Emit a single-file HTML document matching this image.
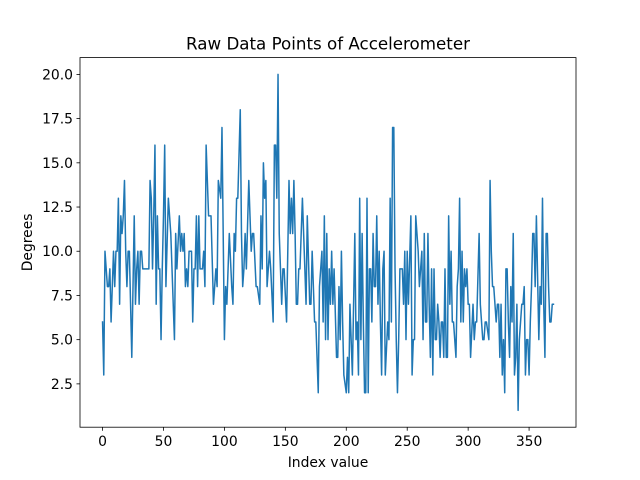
<!DOCTYPE html>
<html><head><meta charset="utf-8">
<style>
html,body{margin:0;padding:0;background:#fff;}
svg{display:block;font-family:"DejaVu Sans","Liberation Sans",sans-serif;}
</style></head>
<body>
<svg id="chart" width="640" height="480" viewBox="0 0 640 480" xmlns="http://www.w3.org/2000/svg">
<rect x="0" y="0" width="640" height="480" fill="#fff"/>
<text x="328" y="49.5" font-size="16.7" text-anchor="middle" fill="#000">Raw Data Points of Accelerometer</text>
<text x="328" y="467" font-size="13.9" text-anchor="middle" fill="#000">Index value</text>
<text x="0" y="0" font-size="13.9" text-anchor="middle" fill="#000" transform="translate(32,242.4) rotate(-90)">Degrees</text>
<g id="xticks"></g>
<g id="yticks"></g>
<path id="line" fill="none" stroke="#1f77b4" stroke-width="1.5" stroke-linejoin="round" stroke-linecap="square"/>
<rect x="80" y="57.6" width="496" height="369.6" fill="none" stroke="#000" stroke-width="0.8"/>
</svg>
<script>
const indices = [0,1,2,3,4,5,6,7,8,9,10,11,12,13,14,15,16,17,18,19,20,21,22,23,24,25,26,27,28,29,30,31,32,33,34,35,36,37,38,39,40,41,42,43,44,45,46,47,48,49,50,51,
52,54,56,59,60,61,63,64,65,66,67,68,69,70,71,72,73,74,75,76,77,78,79,80,81,82,83,84,85,87,89,91,93,94,95,97,98,100,101,102,104,106,
107,108,109,110,111,113,114,115,116,117,118,120,121,122,123,124,126,127,129,130,131,132,133,134,135,137,138,140,141,142,143,144,145,147,148,149,151,153,154,155,156,157,158,159,160,
161,162,164,166,167,168,170,171,172,174,175,177,178,180,181,182,183,184,185,186,187,188,189,190,192,193,194,195,196,197,198,200,201,202,203,204,205,207,208,209,210,211,212,213,214,
215,216,217,218,219,220,221,222,223,224,225,226,227,228,229,230,231,232,234,235,236,237,238,239,240,241,242,243,244,246,247,248,249,250,251,253,254,255,256,257,259,260,262,263,264,265,266,267,268,
269,270,271,272,273,274,275,276,277,278,279,280,281,282,283,284,285,286,287,288,290,291,292,293,294,295,296,297,298,299,300,301,302,304,305,306,307,309,310,312,313,314,315,317,318,319,320,321,
322,323,324,325,326,327,328,329,330,331,332,333,334,335,336,337,338,339,340,341,342,344,345,346,347,348,349,350,351,352,353,354,355,356,358,359,360,361,362,363,364,365,366,367,368,369,370];
const degrees = [6,3,10,9,8,8,9,6,8,10,8,10,10,13,7,12,11,12,14,10,8,10,10,7,4,8,12,7,9,10,7,10,10,9,9,9,9,9,9,14,13,9,12,16,7,12,9,9,5,9,12,16,
8,13,11,5,11,9,12,10,11,10,11,8,9,8,10,10,10,6,9,9,12,8,12,9,9,9,10,8,16,12,12,7,9,8,14,13,17,5,8,7,11,8,
7,11,10,13,13,18,11,8,9,11,9,14,12,10,11,11,8,8,7,12,9,15,13,14,8,10,9,6,16,16,13,20,11,7,9,9,6,14,11,13,11,14,11,7,7,
9,9,13,9,7,12,7,7,10,6,6,2,8,10,6,12,5,11,5,9,7,10,7,9,4,4,8,5,10,6,3,2,4,2,7,5,3,11,5,6,3,13,5,11,6,
2,2,13,2,9,9,6,11,8,8,12,7,10,6,3,9,10,3,6,5,13,6,17,17,9,5,2,5,9,9,7,10,5,10,7,12,3,5,5,12,10,8,10,5,11,6,6,11,7,
4,9,3,9,5,5,7,6,4,6,6,4,9,4,4,12,7,10,6,6,4,8,9,13,6,10,6,9,8,9,7,7,4,7,5,6,6,11,7,5,5,6,6,5,14,10,8,8,
7,6,7,7,4,7,3,5,2,9,9,6,4,8,6,11,3,4,7,1,5,7,7,8,3,5,5,3,6,8,11,11,8,12,5,8,7,13,7,4,11,11,8,6,6,7,7];
const xTicks = [0,50,100,150,200,250,300,350];
const yTicks = [2.5,5.0,7.5,10.0,12.5,15.0,17.5,20.0];

const L=80,R=576,T=57.6,B=427.2;
const xmin=-18.5,xmax=388.5,ymin=0.05,ymax=20.95;
const xs=v=>L+(v-xmin)/(xmax-xmin)*(R-L);
const ys=v=>B-(v-ymin)/(ymax-ymin)*(B-T);
const NS="http://www.w3.org/2000/svg";
const gx=document.getElementById('xticks'), gy=document.getElementById('yticks');
xTicks.forEach(t=>{
  const l=document.createElementNS(NS,'line');
  l.setAttribute('x1',xs(t));l.setAttribute('x2',xs(t));l.setAttribute('y1',B);l.setAttribute('y2',B+3.5);
  l.setAttribute('stroke','#000');l.setAttribute('stroke-width','0.8');
  
  
  gx.appendChild(l);
  const tx=document.createElementNS(NS,'text');
  tx.setAttribute('x',xs(t));tx.setAttribute('y',B+19);tx.setAttribute('font-size','13.9');tx.setAttribute('text-anchor','middle');
  tx.textContent=String(t);
  
  
  gx.appendChild(tx);
});
yTicks.forEach(t=>{
  const l=document.createElementNS(NS,'line');
  l.setAttribute('x1',L-3.5);l.setAttribute('x2',L);l.setAttribute('y1',ys(t));l.setAttribute('y2',ys(t));
  l.setAttribute('stroke','#000');l.setAttribute('stroke-width','0.8');
  
  
  gy.appendChild(l);
  const tx=document.createElementNS(NS,'text');
  tx.setAttribute('x',L-7);tx.setAttribute('y',ys(t)+5);tx.setAttribute('font-size','13.9');tx.setAttribute('text-anchor','end');
  tx.textContent=t.toFixed(1);
  
  
  gy.appendChild(tx);
});
let d='';
for(let i=0;i<degrees.length;i++){d+=(i?'L':'M')+xs(indices[i]).toFixed(2)+' '+ys(degrees[i]).toFixed(2);}
document.getElementById('line').setAttribute('d',d);
</script>
</body></html>
